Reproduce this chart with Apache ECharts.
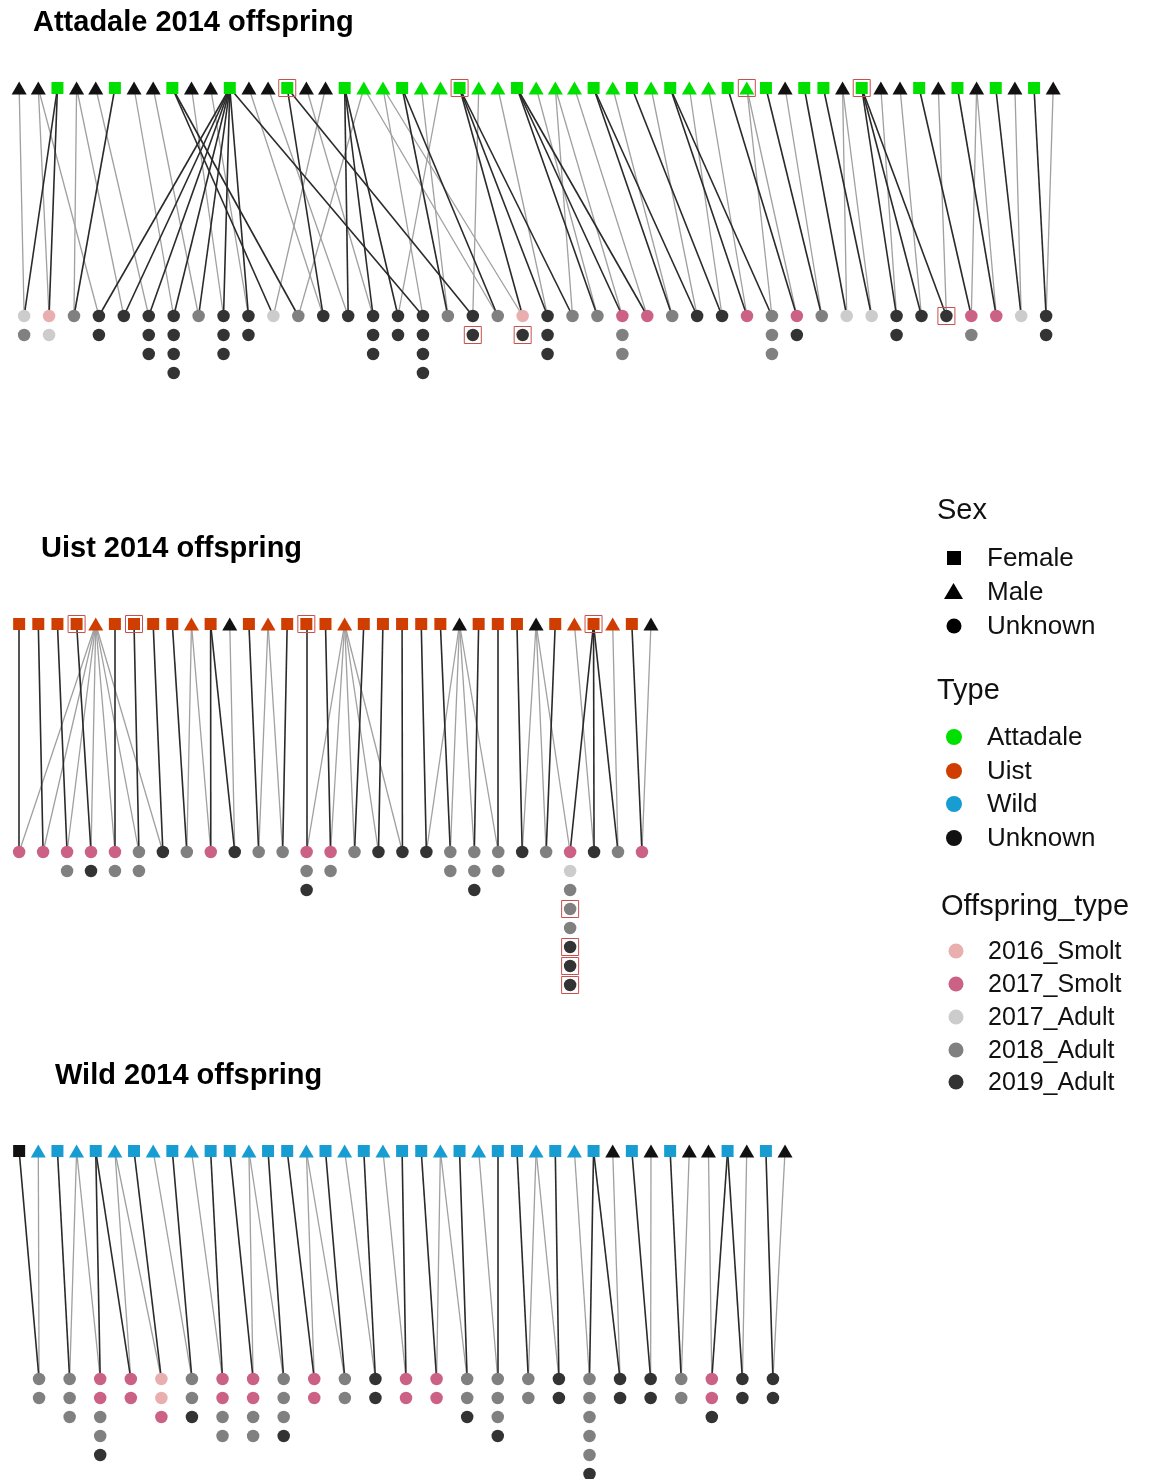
<!DOCTYPE html>
<html><head><meta charset="utf-8">
<script src="https://cdn.jsdelivr.net/npm/echarts/dist/echarts.min.js"></script>
<style>html,body{margin:0;padding:0;background:#fff}#c{width:1159px;height:1479px}</style>
</head><body><div id="c"></div>
<script>
// ---------- DATA ----------
// parent codes: Sex (F/M) + Type (A=Attadale, U=Uist, W=Wild, X=Unknown), '*' = highlighted
const panelTitles = ['Attadale 2014 offspring', 'Uist 2014 offspring', 'Wild 2014 offspring'];

const attParents = ['MX','MX','FA','MX','MX','FA','MX','MX','FA','MX','MX','FA','MX','MX','FA*','MX','MX','FA','MA','MA','FA','MA','MA','FA*','MA','MA','FA','MA','MA','MA','FA','MA','FA','MA','FA','MA','MA','FA','MA*','FA','MX','FA','FA','MX','FA*','MX','MX','FA','MX','FA','MX','FA','MX','FA','MX'];
const attMothers = [2,2,5,11,11,11,11,11,11,11,8,8,14,17,17,17,11,20,14,20,23,23,23,26,26,26,30,30,32,34,34,37,39,41,42,44,44,44,47,49,51,53];
const attFathers = [0,1,3,1,3,4,6,7,9,10,16,18,12,13,15,22,19,21,24,18,19,25,28,27,28,29,31,33,35,36,38,38,40,43,43,45,46,48,50,50,52,54];
const attOffspring = [
  ['A17','A18'],['S16','A17'],['A18'],['A19','A19'],['A19'],['A19','A19','A19'],['A19','A19','A19','A19'],['A18'],
  ['A19','A19','A19'],['A19','A19'],['A17'],['A18'],['A19'],['A19'],['A19','A19','A19'],['A19','A19'],
  ['A19','A19','A19','A19'],['A18'],['A19','A19*'],['A18'],['S16','A19*'],['A19','A19','A19'],['A18'],['A18'],
  ['S17','A18','A18'],['S17'],['A18'],['A19'],['A19'],['S17'],['A18','A18','A18'],['S17','A19'],
  ['A18'],['A17'],['A17'],['A19','A19'],['A19'],['A19*'],['S17','A18'],['S17'],['A17'],['A19','A19']
];

const uistParents = ['FU','FU','FU','FU*','MU','FU','FU*','FU','FU','MU','FU','MX','FU','MU','FU','FU*','FU','MU','FU','FU','FU','FU','FU','MX','FU','FU','FU','MX','FU','MU','FU*','MU','FU','MX'];
const uistMothers = [0,1,2,3,5,6,7,8,10,10,12,14,15,16,18,19,20,21,22,24,25,26,28,30,30,30,32];
const uistFathers = [4,4,4,4,4,4,4,9,9,11,13,13,17,17,17,17,17,23,23,23,23,27,27,27,29,31,33];
const uistOffspring = [
  ['S17'],['S17'],['S17','A18'],['S17','A19'],['S17','A18'],['A18','A18'],['A19'],['A18'],['S17'],['A19'],
  ['A18'],['A18'],['S17','A18','A19'],['S17','A18'],['A18'],['A19'],['A19'],['A19'],['A18','A18'],
  ['A18','A18','A19'],['A18','A18'],['A19'],['A18'],['S17','A17','A18','A18*','A18','A19*','A19*','A19*'],
  ['A19'],['A18'],['S17']
];

const wildParents = ['FX','MW','FW','MW','FW','MW','FW','MW','FW','MW','FW','FW','MW','FW','FW','MW','FW','MW','FW','MW','FW','FW','MW','FW','MW','FW','FW','MW','FW','MW','FW','MX','FW','MX','FW','MX','MX','FW','MX','FW','MX'];
const wildMothers = [0,2,4,4,6,8,10,11,13,14,16,18,20,21,23,25,26,28,30,30,32,34,37,37,39];
const wildFathers = [1,3,3,5,5,7,9,12,12,15,15,17,19,22,22,24,27,27,29,31,33,35,36,38,40];
const wildOffspring = [
  ['A18','A18'],['A18','A18','A18'],['S17','S17','A18','A18','A19'],['S17','S17'],['S16','S16','S17'],
  ['A18','A18','A19'],['S17','S17','A18','A18'],['S17','S17','A18','A18'],['A18','A18','A18','A19'],
  ['S17','S17'],['A18','A18'],['A19','A19'],['S17','S17'],['S17','S17'],['A18','A18','A19'],
  ['A18','A18','A18','A19'],['A18','A18'],['A19','A19'],['A18','A18','A18','A18','A18','A19'],
  ['A19','A19'],['A19','A19'],['A18','A18'],['S17','S17','A19'],['A19','A19'],['A19','A19']
];

const sexLabels = ['Female', 'Male', 'Unknown'];
const typeLabels = ['Attadale', 'Uist', 'Wild', 'Unknown'];
const offspringLabels = ['2016_Smolt', '2017_Smolt', '2017_Adult', '2018_Adult', '2019_Adult'];

// ---------- STYLE / LAYOUT ----------
const typeColor = {A: '#00e000', U: '#cf3d00', W: '#189dd2', X: '#111111'};
const offColor = {S16: '#e9afaf', S17: '#cc6186', A17: '#cccccc', A18: '#808080', A19: '#333333'};
const typeLegendColors = [typeColor.A, typeColor.U, typeColor.W, typeColor.X];
const offLegendColors = [offColor.S16, offColor.S17, offColor.A17, offColor.A18, offColor.A19];
const FONT = '"Liberation Sans", Arial, sans-serif';

const panels = [
  {parents: attParents, mothers: attMothers, fathers: attFathers, offspring: attOffspring,
   top: 88, left: 18, unit: 19.17, row: 19, rows: 16, span: [0.26, 53.63], titleX: 33, titleY: 23},
  {parents: uistParents, mothers: uistMothers, fathers: uistFathers, offspring: uistOffspring,
   top: 624, left: 18, unit: 19.18, row: 19, rows: 20, span: [0, 32.53], titleX: 41, titleY: 549},
  {parents: wildParents, mothers: wildMothers, fathers: wildFathers, offspring: wildOffspring,
   top: 1151, left: 18, unit: 19.175, row: 19, rows: 17, span: [1.04, 39.37], titleX: 55, titleY: 1076}
];
const OFF_ROW = 12; // offspring first row, in row units below parents

const grids = [], xAxes = [], yAxes = [], series = [], graphics = [];

panels.forEach((p, k) => {
  const nP = p.parents.length, nF = p.offspring.length;
  grids.push({left: p.left - p.unit, top: p.top - p.row, width: (nP + 1) * p.unit, height: (p.rows + 1) * p.row});
  xAxes.push({type: 'value', gridIndex: k, min: -1, max: nP, show: false});
  yAxes.push({type: 'value', gridIndex: k, min: -1, max: p.rows, inverse: true, show: false});
  const ox = j => p.span[0] + j * (p.span[1] - p.span[0]) / (nF - 1);

  const grayLines = [], darkLines = [];
  for (let j = 0; j < nF; j++) {
    grayLines.push({coords: [[p.fathers[j], 0], [ox(j), OFF_ROW]]});
    darkLines.push({coords: [[p.mothers[j], 0], [ox(j), OFF_ROW]]});
  }
  const base = {type: 'lines', coordinateSystem: 'cartesian2d', xAxisIndex: k, yAxisIndex: k, silent: true, polyline: false};
  series.push(Object.assign({}, base, {z: 1, data: grayLines, lineStyle: {color: '#a0a0a0', width: 1.3, opacity: 1}}));
  series.push(Object.assign({}, base, {z: 2, data: darkLines, lineStyle: {color: '#2a2a2a', width: 1.6, opacity: 1}}));

  const boxes = [];
  const parentData = p.parents.map((code, i) => {
    const female = code[0] === 'F';
    if (code.endsWith('*')) boxes.push([i, 0]);
    return {value: [i, 0], symbol: female ? 'rect' : 'triangle', symbolSize: female ? 12 : [15, 13],
            itemStyle: {color: typeColor[code[1]], opacity: 1}};
  });
  series.push({type: 'scatter', xAxisIndex: k, yAxisIndex: k, z: 3, clip: false, silent: true,
               itemStyle: {opacity: 1}, data: parentData});

  const offData = [];
  p.offspring.forEach((list, j) => {
    list.forEach((code, r) => {
      const c = code.replace('*', '');
      if (code.endsWith('*')) boxes.push([ox(j), OFF_ROW + r]);
      offData.push({value: [ox(j), OFF_ROW + r], itemStyle: {color: offColor[c], opacity: 1}});
    });
  });
  series.push({type: 'scatter', xAxisIndex: k, yAxisIndex: k, z: 3, clip: false, silent: true,
               symbol: 'circle', symbolSize: 12.5, itemStyle: {opacity: 1}, data: offData});
  series.push({type: 'scatter', xAxisIndex: k, yAxisIndex: k, z: 4, clip: false, silent: true,
               symbol: 'rect', symbolSize: 17, data: boxes,
               itemStyle: {color: 'rgba(0,0,0,0)', borderColor: '#c9504c', borderWidth: 1, opacity: 1}});

  graphics.push({type: 'text', x: p.titleX, y: p.titleY,
    style: {text: panelTitles[k], font: 'bold 29px ' + FONT, fill: '#000', textVerticalAlign: 'middle', verticalAlign: 'middle'}});
});

// ---------- LEGEND ----------
function legendText(txt, x, y, size) {
  graphics.push({type: 'text', x: x, y: y,
    style: {text: txt, font: size + 'px ' + FONT, fill: '#111', textVerticalAlign: 'middle', verticalAlign: 'middle'}});
}
legendText('Sex', 937, 511, 29);
const sexY = [558, 592, 626];
graphics.push({type: 'rect', shape: {x: 947, y: sexY[0] - 7, width: 14, height: 14}, style: {fill: '#000'}});
graphics.push({type: 'polygon', shape: {points: [[953.5, sexY[1] - 9], [944, sexY[1] + 7], [963, sexY[1] + 7]]}, style: {fill: '#000'}});
graphics.push({type: 'circle', shape: {cx: 954, cy: sexY[2], r: 7.5}, style: {fill: '#000'}});
sexLabels.forEach((t, i) => legendText(t, 987, sexY[i] + 1, 26));

legendText('Type', 937, 691, 29);
const typeY = [737, 771, 804, 838];
typeLabels.forEach((t, i) => {
  graphics.push({type: 'circle', shape: {cx: 954, cy: typeY[i], r: 8}, style: {fill: typeLegendColors[i]}});
  legendText(t, 987, typeY[i] + 1, 26);
});

legendText('Offspring_type', 941, 907, 29);
const offY = [951, 984, 1017, 1050, 1082];
offspringLabels.forEach((t, i) => {
  graphics.push({type: 'circle', shape: {cx: 956, cy: offY[i], r: 7.5}, style: {fill: offLegendColors[i]}});
  legendText(t, 988, offY[i] + 1, 25);
});

const chart = echarts.init(document.getElementById('c'), null, {renderer: 'canvas'});
chart.setOption({
  backgroundColor: '#ffffff',
  animation: false,
  grid: grids, xAxis: xAxes, yAxis: yAxes,
  series: series,
  graphic: graphics
});
</script></body></html>
